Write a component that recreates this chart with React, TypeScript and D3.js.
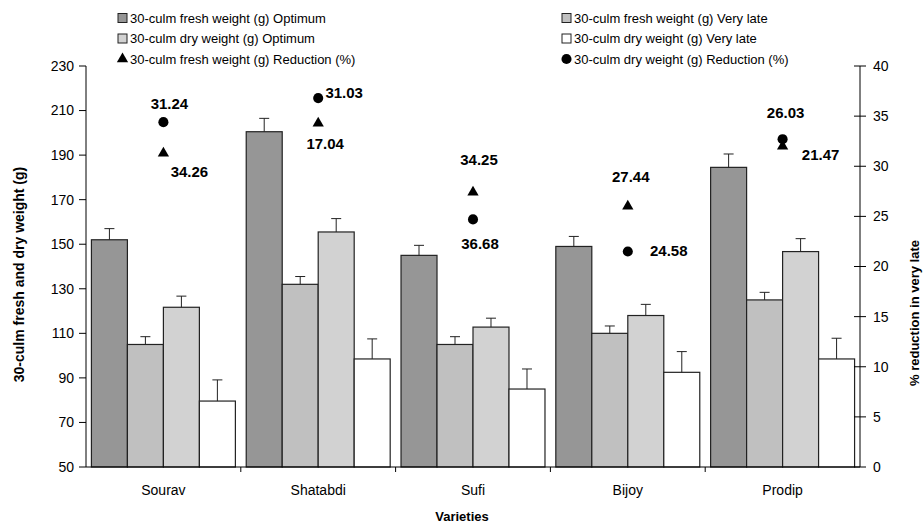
import { useEffect, useRef } from "react";
import * as d3 from "d3";

const varieties = ["Sourav", "Shatabdi", "Sufi", "Bijoy", "Prodip"];

const barSeries = [
  "30-culm fresh weight (g) Optimum",
  "30-culm fresh weight (g) Very late",
  "30-culm dry weight (g) Optimum",
  "30-culm dry weight (g) Very late",
];
const freshOptimum = [152, 200.5, 145, 149, 184.5];
const freshVeryLate = [105, 132, 105, 110, 125];
const dryOptimum = [121.7, 155.5, 112.8, 118, 146.7];
const dryVeryLate = [79.6, 98.5, 85, 92.5, 98.5];
const freshOptimumErr = [5, 6, 4.5, 4.5, 6];
const freshVeryLateErr = [3.5, 3.5, 3.5, 3.3, 3.4];
const dryOptimumErr = [5, 6, 4, 5, 5.8];
const dryVeryLateErr = [9.5, 9, 9, 9.3, 9.3];

// reductions (%) on the right axis
const freshReduction = [31.3, 34.3, 27.4, 26.0, 32.0];
const dryReduction = [34.4, 36.8, 24.7, 21.5, 32.7];

// text labels printed next to the markers
const freshLabels = ["34.26", "17.04", "34.25", "27.44", "21.47"];
const dryLabels = ["31.24", "31.03", "36.68", "24.58", "26.03"];

const leftTicks = [50, 70, 90, 110, 130, 150, 170, 190, 210, 230];
const rightTicks = [0, 5, 10, 15, 20, 25, 30, 35, 40];

const App = () => {
  const svgRef = useRef(null);

  useEffect(() => {
    const svg = d3.select(svgRef.current);
    svg.selectAll("*").remove();
    const font = "Arial, 'Liberation Sans', sans-serif";

    const left = 86, right = 860, top = 66, bottom = 467;
    const colors = ["#969696", "#c0c0c0", "#d2d2d2", "#ffffff"];
    const values = [freshOptimum, freshVeryLate, dryOptimum, dryVeryLate];
    const errs = [freshOptimumErr, freshVeryLateErr, dryOptimumErr, dryVeryLateErr];

    const x0 = d3.scaleBand().domain(varieties).range([left, right]);
    const pad = x0.bandwidth() * 0.035;
    const x1 = d3.scaleBand().domain(barSeries).range([pad, x0.bandwidth() - pad]);
    const y = d3.scaleLinear().domain([50, 230]).range([bottom, top]);
    const yR = d3.scaleLinear().domain([0, 40]).range([bottom, top]);

    // bars
    barSeries.forEach((s, si) => {
      const g = svg.append("g");
      varieties.forEach((v, vi) => {
        const bx = x0(v) + x1(s);
        const val = values[si][vi];
        g.append("rect")
          .attr("x", bx)
          .attr("y", y(val))
          .attr("width", x1.bandwidth())
          .attr("height", y(50) - y(val))
          .attr("fill", colors[si])
          .attr("stroke", "#222")
          .attr("stroke-width", 1.2);
        const cx = bx + x1.bandwidth() / 2;
        g.append("line")
          .attr("x1", cx).attr("x2", cx)
          .attr("y1", y(val)).attr("y2", y(val + errs[si][vi]))
          .attr("stroke", "#222");
        g.append("line")
          .attr("x1", cx - 5).attr("x2", cx + 5)
          .attr("y1", y(val + errs[si][vi])).attr("y2", y(val + errs[si][vi]))
          .attr("stroke", "#222");
      });
    });

    // axes
    const ax = svg.append("g").attr("stroke", "#000").attr("stroke-width", 1);
    ax.append("line").attr("x1", left).attr("x2", left).attr("y1", top).attr("y2", bottom);
    ax.append("line").attr("x1", right).attr("x2", right).attr("y1", top).attr("y2", bottom);
    ax.append("line").attr("x1", left).attr("x2", right).attr("y1", bottom).attr("y2", bottom);

    leftTicks.forEach((t) => {
      ax.append("line").attr("x1", left - 7).attr("x2", left).attr("y1", y(t)).attr("y2", y(t));
      svg.append("text")
        .attr("x", left - 12).attr("y", y(t)).attr("dy", "0.35em")
        .attr("text-anchor", "end")
        .style("font-family", font).style("font-size", "14px")
        .text(t);
    });
    rightTicks.forEach((t) => {
      ax.append("line").attr("x1", right - 6).attr("x2", right + 6).attr("y1", yR(t)).attr("y2", yR(t));
      svg.append("text")
        .attr("x", right + 13).attr("y", yR(t)).attr("dy", "0.35em")
        .style("font-family", font).style("font-size", "14px")
        .text(t);
    });
    d3.range(varieties.length + 1).forEach((i) => {
      const tx = left + i * x0.bandwidth();
      if (i > 0 && i < varieties.length) {
        ax.append("line").attr("x1", tx).attr("x2", tx).attr("y1", bottom).attr("y2", bottom + 5);
      }
    });
    varieties.forEach((v) => {
      svg.append("text")
        .attr("x", x0(v) + x0.bandwidth() / 2).attr("y", 490).attr("dy", "0.35em")
        .attr("text-anchor", "middle")
        .style("font-family", font).style("font-size", "14px")
        .text(v);
    });

    // axis titles
    svg.append("text")
      .attr("x", (left + right) / 2 - 11).attr("y", 516).attr("dy", "0.35em")
      .attr("text-anchor", "middle")
      .style("font-family", font).style("font-size", "13px").style("font-weight", "bold")
      .text("Varieties");
    svg.append("text")
      .attr("transform", `translate(19, ${(top + bottom) / 2 + 8}) rotate(-90)`)
      .attr("dy", "0.35em")
      .attr("text-anchor", "middle")
      .style("font-family", font).style("font-size", "14px").style("font-weight", "bold")
      .text("30-culm fresh and dry weight (g)");
    svg.append("text")
      .attr("transform", `translate(914, 313) rotate(-90)`)
      .attr("dy", "0.35em")
      .attr("text-anchor", "middle")
      .style("font-family", font).style("font-size", "13px").style("font-weight", "bold")
      .text("% reduction in very late");

    // reduction markers
    const tri = d3.symbol().type(d3.symbolTriangle).size(55);
    const circ = d3.symbol().type(d3.symbolCircle).size(80);
    const mx = (v) => x0(v) + x0.bandwidth() / 2;
    varieties.forEach((v, i) => {
      svg.append("path").attr("d", tri())
        .attr("transform", `translate(${mx(v)}, ${yR(freshReduction[i])})`)
        .attr("fill", "#000");
      svg.append("path").attr("d", circ())
        .attr("transform", `translate(${mx(v)}, ${yR(dryReduction[i])})`)
        .attr("fill", "#000");
    });

    // label offsets relative to their markers
    const freshOff = [[26, 19], [7, 21], [6, -33], [3, -30], [38, 9]];
    const dryOff = [[6, -18], [26, -5], [7, 24], [41, -1], [3, -26]];
    const addLabel = (txt, px, py) =>
      svg.append("text")
        .attr("x", px).attr("y", py).attr("dy", "0.35em")
        .attr("text-anchor", "middle")
        .style("font-family", font).style("font-size", "15px").style("font-weight", "bold")
        .text(txt);
    varieties.forEach((v, i) => {
      addLabel(freshLabels[i], mx(v) + freshOff[i][0], yR(freshReduction[i]) + freshOff[i][1]);
      addLabel(dryLabels[i], mx(v) + dryOff[i][0], yR(dryReduction[i]) + dryOff[i][1]);
    });

    // legend
    const legendItems = [
      { label: barSeries[0], kind: "rect", fill: colors[0], x: 118, y: 18 },
      { label: barSeries[1], kind: "rect", fill: colors[1], x: 562, y: 18 },
      { label: barSeries[2], kind: "rect", fill: colors[2], x: 118, y: 38.5 },
      { label: barSeries[3], kind: "rect", fill: colors[3], x: 562, y: 38.5 },
      { label: "30-culm fresh weight (g) Reduction (%)", kind: "tri", x: 118, y: 59 },
      { label: "30-culm dry weight (g) Reduction (%)", kind: "circ", x: 562, y: 59 },
    ];
    const lg = svg.append("g");
    legendItems.forEach((d) => {
      if (d.kind === "rect") {
        lg.append("rect")
          .attr("x", d.x).attr("y", d.y - 4.5).attr("width", 9).attr("height", 9)
          .attr("fill", d.fill).attr("stroke", "#222").attr("stroke-width", 1);
      } else {
        lg.append("path")
          .attr("d", d.kind === "tri" ? tri() : circ())
          .attr("transform", `translate(${d.x + 4.5}, ${d.y})`)
          .attr("fill", "#000");
      }
      lg.append("text")
        .attr("x", d.x + 12).attr("y", d.y).attr("dy", "0.35em")
        .style("font-family", font).style("font-size", "13px")
        .text(d.label);
    });
  }, []);

  return (
    <svg
      ref={svgRef}
      width={923}
      height={526}
      style={{ position: "absolute", left: 0, top: 0, background: "#fff" }}
    ></svg>
  );
};

export default App;
